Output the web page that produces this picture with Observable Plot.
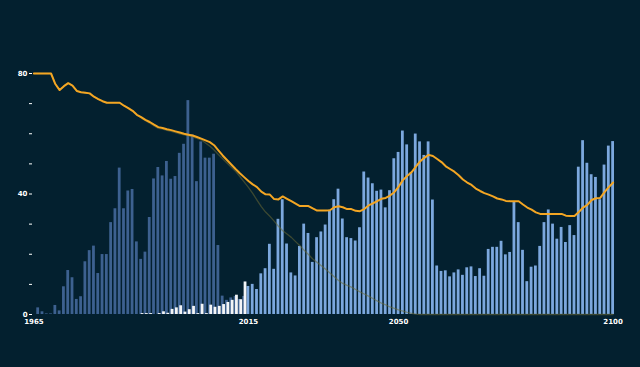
<!DOCTYPE html>
<html><head><meta charset="utf-8">
<script src="https://cdn.jsdelivr.net/npm/d3@7"></script>
<script src="https://cdn.jsdelivr.net/npm/@observablehq/plot@0.6"></script>
<style>
html,body{margin:0;padding:0;background:#03202f;}
#chart{width:640px;height:367px;}
</style></head><body><div id="chart"></div>
<script>
const startYear = 1965, splitYear = 2015, endYear = 2100;
const years = d3.range(startYear, endYear + 1);

// 1965–2014 (dark bars)
const histValues = [
  0, 2.2, 0.9, 0.2, 0.2, 3.0, 1.2, 9.2, 14.6, 12.2,
  5.0, 5.9, 17.5, 21.2, 22.7, 13.6, 19.9, 19.9, 30.5, 35.1,
  48.6, 35.1, 41.0, 41.5, 24.1, 18.3, 20.7, 32.2, 45.0, 48.8,
  46.0, 50.8, 44.9, 45.8, 53.5, 56.5, 71.0, 59.6, 44.1, 57.3,
  51.9, 51.9, 53.2, 22.9, 6.1, 4.7, 5.5, 6.0, 5.0, 6.0
];
// 1965–2014 (white bars)
const whiteValues = [
  0, 0, 0, 0, 0, 0, 0, 0, 0, 0,
  0, 0, 0, 0, 0, 0, 0, 0, 0, 0,
  0, 0, 0, 0, 0, 0.3, 0.3, 0.3, 0, 0.3,
  0.9, 0.4, 1.7, 2.2, 2.9, 0.8, 1.6, 2.7, 0.3, 3.4,
  0.3, 3.1, 2.4, 2.7, 3.3, 4.0, 4.7, 6.4, 4.9, 10.8
];
// 2015–2100 (light bars)
const projValues = [
  9.3, 10.0, 8.3, 13.5, 15.2, 23.3, 15.0, 31.6, 38.1, 23.4,
  13.8, 12.8, 22.6, 30.0, 26.9, 17.3, 25.5, 27.4, 29.7, 34.6,
  38.1, 41.6, 31.7, 25.5, 25.2, 24.4, 28.8, 47.3, 45.3, 43.4,
  40.9, 41.3, 35.4, 41.1, 51.7, 53.8, 60.9, 56.3, 47.0, 59.9,
  57.3, 52.8, 57.3, 38.0, 16.1, 14.3, 14.5, 12.5, 13.8, 14.8,
  13.0, 15.5, 15.8, 12.6, 15.2, 12.7, 21.6, 22.3, 22.3, 24.3,
  19.8, 20.6, 37.5, 30.5, 21.3, 10.9, 15.7, 16.1, 22.6, 30.5,
  34.7, 30.0, 25.0, 28.9, 23.9, 29.5, 26.2, 48.9, 57.7, 50.2,
  46.4, 45.5, 38.1, 49.6, 55.9, 57.4
];
// 1965–2100 (orange line)
const avgValues = [
  80, 80, 80, 80, 80, 76.5, 74.5, 75.8, 76.8, 76.0,
  74.2, 73.8, 73.6, 73.4, 72.3, 71.5, 70.8, 70.3, 70.3, 70.3,
  70.3, 69.3, 68.5, 67.6, 66.3, 65.5, 64.6, 63.9, 63.0, 62.2,
  61.9, 61.5, 61.2, 60.8, 60.4, 60.0, 59.7, 59.4, 58.9, 58.4,
  57.8, 57.2, 56.2, 54.5, 52.8, 51.3, 49.8, 48.3, 46.9, 45.6,
  44.3, 43.2, 42.3, 40.8, 39.9, 39.8, 38.3, 38.2, 39.2, 38.4,
  37.6, 36.8, 36.0, 36.0, 36.0, 35.2, 34.5, 34.5, 34.5, 34.6,
  35.6, 35.9, 35.6, 35.0, 35.0, 34.4, 34.3, 35.0, 36.2, 36.9,
  37.6, 38.4, 38.7, 39.5, 40.6, 42.4, 44.6, 46.0, 47.2, 49.0,
  50.8, 52.0, 53.0, 52.6, 51.6, 50.6, 49.2, 48.3, 47.4, 46.2,
  44.8, 43.8, 43.0, 41.8, 41.0, 40.3, 39.8, 39.2, 38.5, 38.2,
  37.7, 37.6, 37.6, 37.6, 36.5, 35.5, 34.8, 33.9, 33.4, 33.4,
  33.4, 33.4, 33.4, 33.4, 32.8, 32.7, 32.7, 34.0, 35.5, 36.4,
  38.0, 38.6, 38.7, 40.6, 42.3, 43.8
];
// 1965–2100 (olive line)
const oliveValues = [
  80, 80, 80, 80, 80, 76.5, 74.5, 75.8, 76.8, 76.0,
  74.2, 73.8, 73.6, 73.4, 72.3, 71.5, 70.8, 70.3, 70.3, 70.3,
  70.3, 69.3, 68.5, 67.6, 66.3, 65.2, 64.3, 63.5, 62.6, 61.8,
  61.5, 61.1, 60.8, 60.4, 60.0, 59.6, 59.3, 59.0, 58.5, 58.0,
  56.9, 55.9, 54.6, 53.1, 51.7, 50.3, 48.9, 47.5, 45.8, 44.0,
  42.2, 40.2, 38.0, 35.8, 34.0, 32.6, 31.0, 29.3, 27.8, 26.7,
  25.6, 24.2, 22.8, 21.3, 19.9, 18.4, 17.3, 16.2, 15.0, 13.8,
  12.5, 11.3, 10.3, 9.7, 9.1, 8.3, 7.5, 6.8, 6.1, 5.3,
  4.5, 3.8, 3.2, 2.5, 2.0, 1.5, 1.1, 0.7, 0.4, 0.1,
  0, 0, 0, 0, 0, 0, 0, 0, 0, 0,
  0, 0, 0, 0, 0, 0, 0, 0, 0, 0,
  0, 0, 0, 0, 0, 0, 0, 0, 0, 0,
  0, 0, 0, 0, 0, 0, 0, 0, 0, 0,
  0, 0, 0, 0, 0, 0
];

const yTicks = [0, 10, 20, 30, 40, 50, 60, 70, 80];
const yLabels = [0, 40, 80];
const xTicks = [1965, 2015, 2050, 2100];

const bg = "#03202f";
const histYears = years.filter(y => y < splitYear);
const projYears = years.filter(y => y >= splitYear);
const hist = histYears.map((year, i) => ({year, value: histValues[i]}));
const white = histYears.map((year, i) => ({year, value: whiteValues[i]}));
const proj = projYears.map((year, i) => ({year, value: projValues[i]}));
const avg = years.map((year, i) => ({year, value: avgValues[i]}));
const olive = years.map((year, i) => ({year, value: oliveValues[i]}));

const chart = Plot.plot({
  width: 640,
  height: 367,
  marginTop: 73,
  marginBottom: 53,
  marginLeft: 32,
  marginRight: 26,
  style: {background: bg, color: "white", fontFamily: "DejaVu Sans", fontSize: "7px", fontWeight: "bold", overflow: "visible"},
  x: {type: "band", domain: years, paddingInner: 0.35, paddingOuter: 0},
  y: {domain: [0, 80]},
  marks: [
    Plot.barY(hist, {x: "year", y: "value", fill: "#3d6190"}),
    Plot.barY(proj, {x: "year", y: "value", fill: "#7ca8de"}),
    Plot.barY(white.filter(d => d.value > 0), {x: "year", y: "value", fill: "#f3f5f7", dx: 1.4}),
    Plot.lineY(olive, {x: "year", y: "value", stroke: "#6b6a35", strokeOpacity: 0.55, strokeWidth: 1.3}),
    Plot.lineY(avg, {x: "year", y: "value", stroke: "#f4a623", strokeWidth: 2}),
    Plot.axisY({ticks: yTicks, tickFormat: d => yLabels.includes(d) ? String(d) : "", tickSize: 3, tickPadding: 2, stroke: "white", label: null, textStroke: bg, textStrokeWidth: 2}),
    Plot.axisX({ticks: xTicks, tickFormat: d => String(d), tickSize: 0, tickPadding: 5, label: null, textStroke: bg, textStrokeWidth: 2})
  ]
});
document.getElementById("chart").appendChild(chart);
</script>
</body></html>
